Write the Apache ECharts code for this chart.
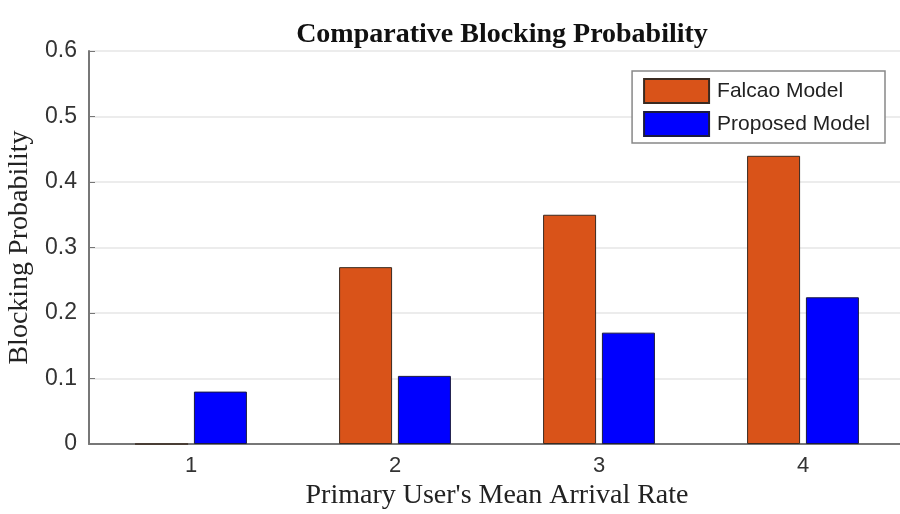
<!DOCTYPE html>
<html>
<head>
<meta charset="utf-8">
<script src="https://cdn.jsdelivr.net/npm/echarts@6/dist/echarts.min.js"></script>
<style>
  html, body { margin: 0; padding: 0; background: #fff; }
  #chart { width: 900px; height: 514px; }
</style>
</head>
<body>
<div id="chart"></div>
<script>
// data
const categories = ["1", "2", "3", "4"];
const falcao = [0, 0.27, 0.35, 0.44];
const proposed = [0.08, 0.104, 0.17, 0.224];

const chart = echarts.init(document.getElementById("chart"));

const serif = "'Liberation Serif', 'DejaVu Serif', serif";
const sans = "'Liberation Sans', Arial, sans-serif";

chart.setOption({
  animation: false,
  title: {
    text: "Comparative Blocking Probability",
    left: 497,
    textAlign: "center",
    top: 16,
    textStyle: { fontFamily: serif, fontWeight: "bold", fontSize: 28, color: "#111" },
  },
  legend: {
    data: ["Falcao Model", "Proposed Model"],
    right: 15,
    top: 71,
    orient: "vertical",
    icon: "rect",
    itemWidth: 65,
    itemHeight: 24,
    itemGap: 7,
    padding: [7, 15, 6, 11],
    borderColor: "#888",
    borderWidth: 1.5,
    backgroundColor: "#fff",
    textStyle: { fontFamily: sans, fontSize: 21, lineHeight: 24, color: "#222", padding: [0, 0, 0, 3] },
  },
  grid: { left: 89, top: 51, width: 816, height: 393, outerBoundsMode: "none" },
  xAxis: {
    type: "category",
    data: categories,
    name: "Primary User's Mean Arrival Rate",
    nameLocation: "middle",
    nameGap: 37,
    nameTextStyle: { fontFamily: serif, fontSize: 28, color: "#222" },
    axisLine: { lineStyle: { color: "#777", width: 2 } },
    axisTick: { show: false },
    axisLabel: { fontFamily: sans, fontSize: 22, color: "#333", margin: 11 },
  },
  yAxis: {
    type: "value",
    min: 0,
    max: 0.6,
    interval: 0.1,
    name: "Blocking Probability",
    nameLocation: "middle",
    nameGap: 53,
    nameTextStyle: { fontFamily: serif, fontSize: 28, color: "#222" },
    axisLine: { show: true, lineStyle: { color: "#777", width: 2 } },
    axisTick: { show: true, inside: true, length: 6, lineStyle: { color: "#777" } },
    axisLabel: { fontFamily: sans, fontSize: 23, color: "#333", margin: 12 },
    splitLine: { lineStyle: { color: "#e6e6e6", width: 1.5 } },
  },
  series: [
    {
      name: "Falcao Model",
      type: "bar",
      data: falcao,
      barWidth: 53,
      barGap: "11%",
      itemStyle: { color: "#D95319", borderColor: "#3a2a20", borderWidth: 1 },
    },
    {
      name: "Proposed Model",
      type: "bar",
      data: proposed,
      barWidth: 53,
      itemStyle: { color: "#0000FF", borderColor: "#1a1a40", borderWidth: 1 },
    },
  ],
});
</script>
</body>
</html>
